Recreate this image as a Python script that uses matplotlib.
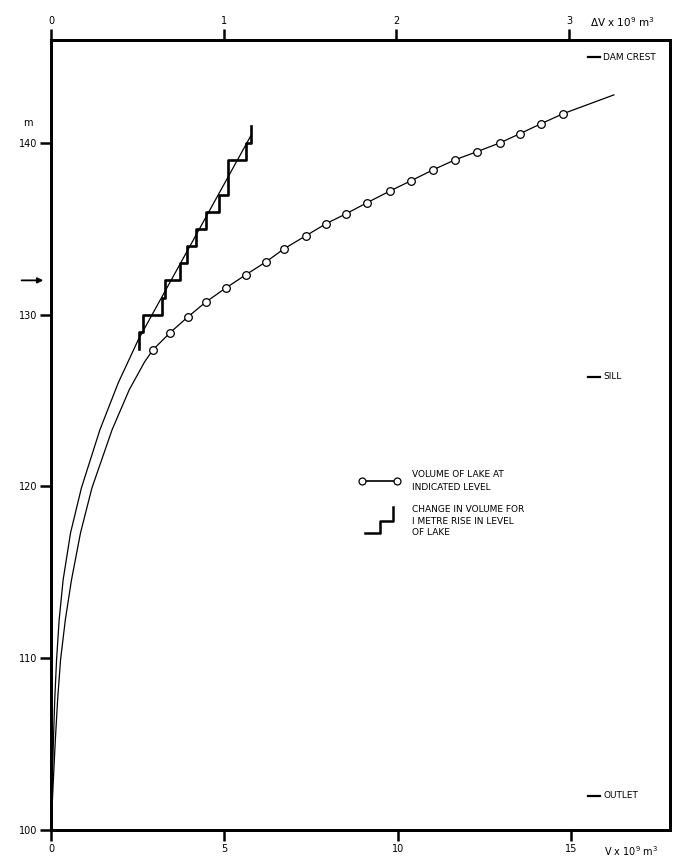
import matplotlib.pyplot as plt
import numpy as np

plt.rcParams['font.family'] = ['DejaVu Sans']

# volume of lake at indicated level (V x 10^9 m3, bottom axis)
vol_level = [100, 102.74, 105.24, 107.57, 109.90, 112.23, 114.56, 117.30, 119.92, 123.30,
             125.63, 127.26]
vol_value = [0, 0.063, 0.124, 0.190, 0.274, 0.412, 0.59, 0.85, 1.18, 1.76, 2.255, 2.70]
marker_level = [127.96, 128.95, 129.88, 130.75, 131.57, 132.33, 133.08, 133.84, 134.6,
                135.3, 135.88, 136.52, 137.21, 137.8, 138.43, 139.02, 139.49, 140.01,
                140.54, 141.12, 141.7]
marker_value = [2.94, 3.43, 3.95, 4.47, 5.05, 5.62, 6.20, 6.72, 7.35, 7.93, 8.51, 9.11,
                9.78, 10.38, 11.01, 11.65, 12.28, 12.95, 13.52, 14.13, 14.76]
vol_end_level = [142.8]
vol_end_value = [16.23]

# change in volume per metre (dV x 10^9 m3, top axis)
dv_level = [100, 102.74, 105.24, 107.57, 109.90, 112.23, 114.56, 117.30, 119.92, 123.30,
            126.03, 128.54, 134.5, 140.48]
dv_value = [0, 0.0069, 0.0139, 0.0214, 0.032, 0.047, 0.070, 0.113, 0.176, 0.283,
            0.389, 0.505, 0.832, 1.160]
step_edges = [128, 129, 130, 131, 132, 133, 134, 135, 136, 137, 138, 139, 140, 141]
step_dv = [0.509, 0.534, 0.645, 0.660, 0.748, 0.786, 0.842, 0.900, 0.972, 1.025, 1.025, 1.127, 1.160]

# reference levels
levels = {'DAM CREST': 145, 'SILL': 126.4, 'OUTLET': 102}
arrow_level = 132

fig = plt.figure(figsize=(7, 8.68), dpi=100)
ax = fig.add_axes([0.0729, 0.0438, 0.8843, 0.9102])
ax.set_xlim(0, 17.85)
ax.set_ylim(100, 146)

# volume curve
v_x = vol_value + marker_value + vol_end_value
v_y = vol_level + marker_level + vol_end_level
ax.plot(v_x, v_y, color='black', lw=0.9)
ax.plot(marker_value, marker_level, 'o', color='black', mfc='white', ms=5.5, mew=0.9)

# top axis for change in volume
ax2 = ax.twiny()
ax2.set_xlim(0, 3.584)
ax2.plot(dv_value, dv_level, color='black', lw=0.9)
sx = np.repeat(step_dv, 2)
sy = np.concatenate([[step_edges[0]], np.repeat(step_edges[1:-1], 2), [step_edges[-1]]])
ax2.plot(sx, sy, color='black', lw=1.9)

for a in (ax, ax2):
    for s in a.spines.values():
        s.set_linewidth(2)

ax.set_xticks([0, 5, 10, 15])
ax.set_yticks([100, 110, 120, 130, 140])
ax2.set_xticks([0, 1, 2, 3])
ax.tick_params(direction='out', length=8, width=1.8, labelsize=7, pad=2)
ax2.tick_params(direction='out', length=8, width=1.8, labelsize=7, pad=2)

ax.text(15.95, 98.78, 'V x 10$^9$ m$^3$', fontsize=7, va='center', ha='left')
ax2.text(3.12, 147.06, '\u0394V x 10$^9$ m$^3$', fontsize=7.5, va='center', ha='left')
ax.text(-0.037, 141.0, 'm', fontsize=7, transform=ax.get_yaxis_transform(), ha='center')

ax.annotate('', xy=(-0.008, arrow_level), xytext=(-0.052, arrow_level),
            xycoords=ax.get_yaxis_transform(),
            arrowprops=dict(arrowstyle='-|>', color='black', lw=1.3, mutation_scale=8))

for name, lev in levels.items():
    ax.plot([15.48, 15.83], [lev, lev], color='black', lw=1.6)
    ax.text(15.92, lev, name, fontsize=6.5, va='center', ha='left')

# legend drawn by hand
t = ax.transAxes
ax.plot([0.502, 0.5585], [0.4418, 0.4418], color='black', lw=1.2, transform=t)
ax.plot([0.502, 0.5585], [0.4418, 0.4418], 'o', color='black', mfc='white', ms=5, mew=0.9, transform=t)
ax.text(0.583, 0.4418, 'VOLUME OF LAKE AT\nINDICATED LEVEL', fontsize=6.5, va='center',
        ha='left', transform=t, linespacing=1.45)
ax.plot([0.507, 0.5315, 0.5315, 0.552, 0.552], [0.3756, 0.3756, 0.3915, 0.3915, 0.4084],
        color='black', lw=1.8, transform=t)
ax.text(0.583, 0.391, 'CHANGE IN VOLUME FOR\nI METRE RISE IN LEVEL\nOF LAKE', fontsize=6.5,
        va='center', ha='left', transform=t, linespacing=1.3)

fig.savefig('out.png', dpi=100)
